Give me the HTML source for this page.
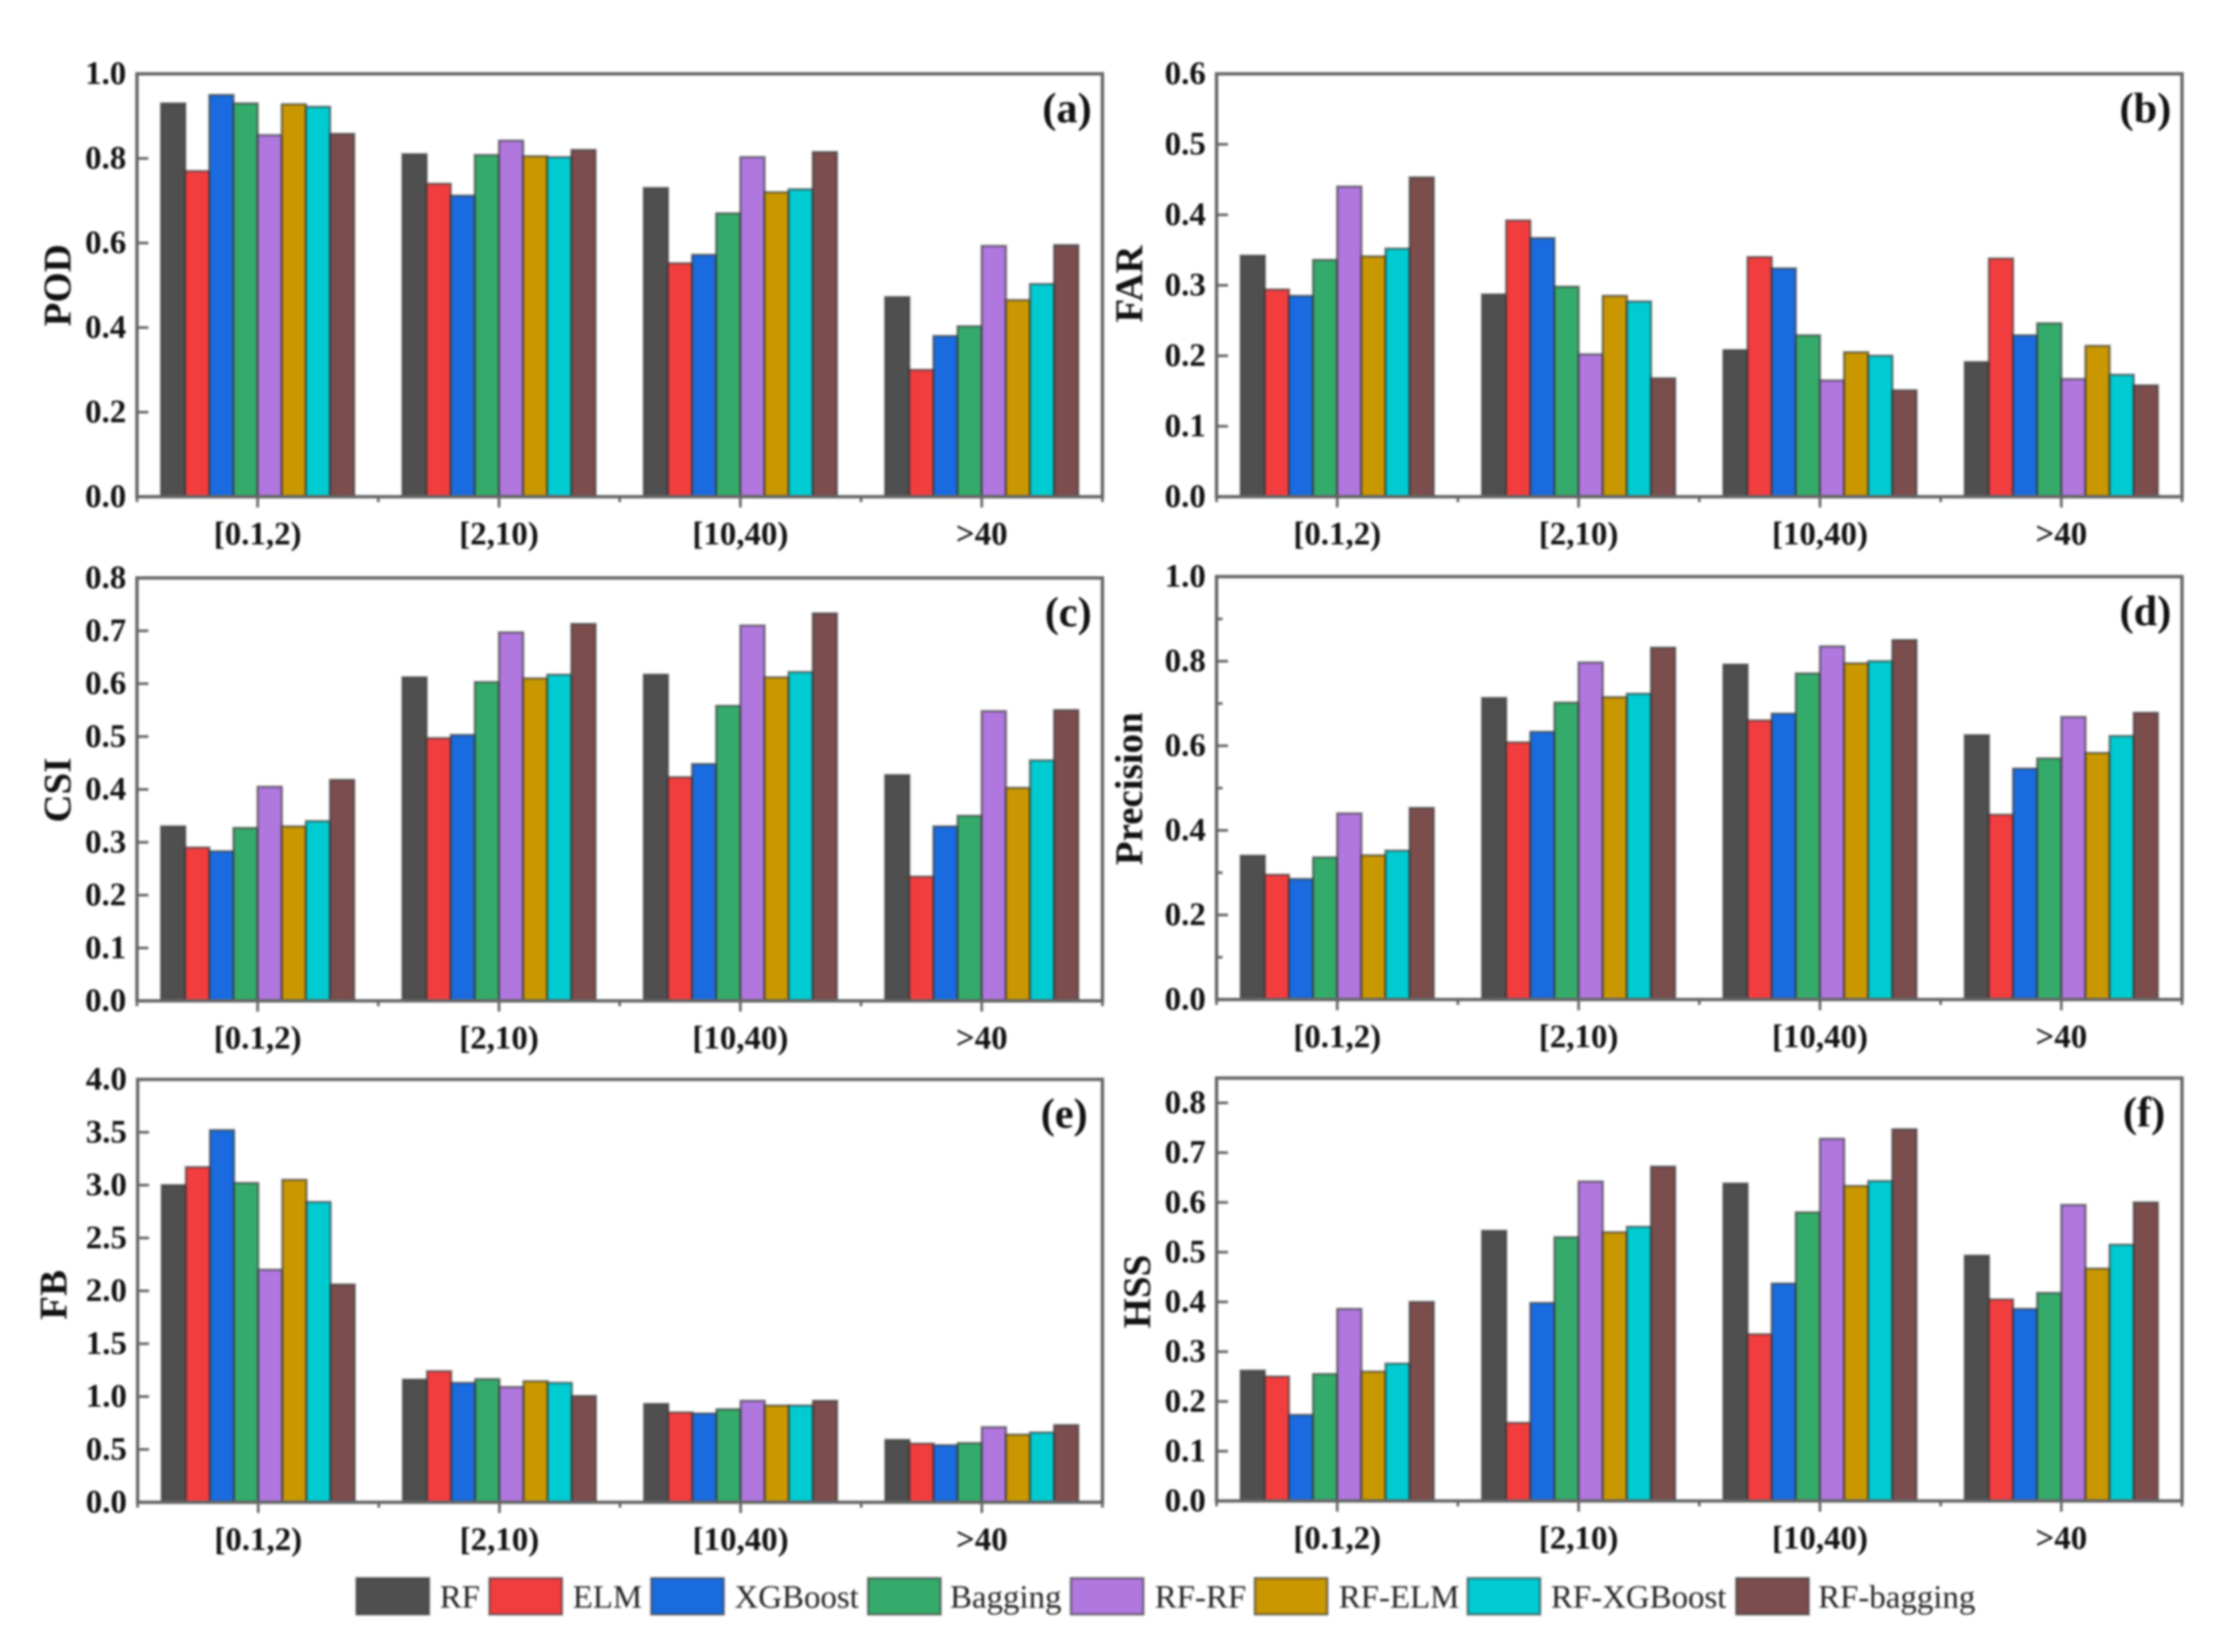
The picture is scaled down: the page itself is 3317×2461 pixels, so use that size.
<!DOCTYPE html>
<html lang="en">
<head>
<meta charset="utf-8">
<title>Model skill scores by rainfall intensity</title>
<style>
html,body{margin:0;padding:0;background:#fff;}
body{width:3317px;height:2461px;overflow:hidden;}
svg{display:block;filter:blur(1.6px);font-family:"Liberation Serif",serif;}
.s0{fill:#4f4f4f}.s1{fill:#f23d3f}.s2{fill:#1a6be0}.s3{fill:#35ab6b}
.s4{fill:#b077de}.s5{fill:#c99700}.s6{fill:#00cbd0}.s7{fill:#7c4d4d}
.bar{stroke:#333;stroke-opacity:.6;stroke-width:3.5px;}
.frame{fill:none;stroke:#666;stroke-width:5px;}
.tick{stroke:#666;stroke-width:4px;}
.tl{font-size:49px;font-weight:bold;fill:#111;}
.at{font-size:58px;font-weight:bold;fill:#111;}
.pl{font-size:63px;font-weight:bold;fill:#111;}
.lg{font-size:49px;fill:#222;}
</style>
</head>
<body>
<svg id="chart" width="3317" height="2461" viewBox="0 0 3317 2461" xmlns="http://www.w3.org/2000/svg">
  <rect width="3317" height="2461" fill="#fff"/>
  <g id="panels"></g>
  <g>
    <g><rect class="s0 bar" x="531" y="2351" width="108" height="54"/><text class="lg" x="655" y="2395">RF</text></g>
    <g><rect class="s1 bar" x="729" y="2351" width="108" height="54"/><text class="lg" x="853" y="2395">ELM</text></g>
    <g><rect class="s2 bar" x="970" y="2351" width="108" height="54"/><text class="lg" x="1094" y="2395">XGBoost</text></g>
    <g><rect class="s3 bar" x="1293" y="2351" width="108" height="54"/><text class="lg" x="1415" y="2395">Bagging</text></g>
    <g><rect class="s4 bar" x="1595" y="2351" width="108" height="54"/><text class="lg" x="1720" y="2395">RF-RF</text></g>
    <g><rect class="s5 bar" x="1869" y="2351" width="108" height="54"/><text class="lg" x="1994" y="2395">RF-ELM</text></g>
    <g><rect class="s6 bar" x="2186" y="2351" width="108" height="54"/><text class="lg" x="2310" y="2395">RF-XGBoost</text></g>
    <g><rect class="s7 bar" x="2586" y="2351" width="108" height="54"/><text class="lg" x="2708" y="2395">RF-bagging</text></g>
  </g>
</svg>
<script>
const categories = ['[0.1,2)', '[2,10)', '[10,40)', '>40'];
const seriesNames = ['RF', 'ELM', 'XGBoost', 'Bagging', 'RF-RF', 'RF-ELM', 'RF-XGBoost', 'RF-bagging'];

const podValues = [
  [0.93, 0.77, 0.95, 0.93, 0.855, 0.928, 0.922, 0.858],
  [0.81, 0.74, 0.712, 0.808, 0.842, 0.805, 0.803, 0.82],
  [0.73, 0.552, 0.572, 0.67, 0.803, 0.72, 0.727, 0.815],
  [0.472, 0.30, 0.38, 0.403, 0.593, 0.465, 0.503, 0.595]
];
const farValues = [
  [0.342, 0.294, 0.285, 0.336, 0.44, 0.341, 0.352, 0.453],
  [0.287, 0.392, 0.367, 0.298, 0.202, 0.285, 0.277, 0.168],
  [0.208, 0.34, 0.324, 0.229, 0.165, 0.205, 0.2, 0.151],
  [0.191, 0.338, 0.229, 0.246, 0.167, 0.214, 0.173, 0.158]
];
const csiValues = [
  [0.33, 0.29, 0.283, 0.327, 0.405, 0.33, 0.34, 0.418],
  [0.612, 0.497, 0.503, 0.603, 0.697, 0.61, 0.617, 0.713],
  [0.617, 0.423, 0.448, 0.558, 0.71, 0.612, 0.622, 0.733],
  [0.427, 0.235, 0.33, 0.35, 0.548, 0.403, 0.455, 0.55]
];
const precisionValues = [
  [0.34, 0.295, 0.285, 0.336, 0.44, 0.341, 0.352, 0.453],
  [0.713, 0.608, 0.633, 0.702, 0.797, 0.715, 0.723, 0.832],
  [0.792, 0.66, 0.676, 0.771, 0.835, 0.795, 0.8, 0.85],
  [0.625, 0.437, 0.546, 0.57, 0.668, 0.583, 0.623, 0.678]
];
const fbValues = [
  [3.0, 3.17, 3.52, 3.02, 2.2, 3.05, 2.84, 2.06],
  [1.16, 1.24, 1.13, 1.165, 1.09, 1.145, 1.13, 1.005],
  [0.93, 0.85, 0.84, 0.88, 0.96, 0.915, 0.915, 0.96],
  [0.59, 0.555, 0.54, 0.56, 0.71, 0.64, 0.66, 0.73]
];
const hssValues = [
  [0.262, 0.25, 0.173, 0.255, 0.386, 0.26, 0.276, 0.4],
  [0.543, 0.157, 0.398, 0.53, 0.642, 0.54, 0.551, 0.672],
  [0.638, 0.335, 0.437, 0.58, 0.728, 0.633, 0.643, 0.747],
  [0.493, 0.405, 0.386, 0.418, 0.595, 0.467, 0.515, 0.6]
];

const podTicks = ['0.0', '0.2', '0.4', '0.6', '0.8', '1.0'];
const farTicks = ['0.0', '0.1', '0.2', '0.3', '0.4', '0.5', '0.6'];
const csiTicks = ['0.0', '0.1', '0.2', '0.3', '0.4', '0.5', '0.6', '0.7', '0.8'];
const precisionTicks = ['0.0', '0.2', '0.4', '0.6', '0.8', '1.0'];
const precisionMinorTicks = [0.1, 0.3, 0.5, 0.7, 0.9];
const fbTicks = ['0.0', '0.5', '1.0', '1.5', '2.0', '2.5', '3.0', '3.5', '4.0'];
const hssTicks = ['0.0', '0.1', '0.2', '0.3', '0.4', '0.5', '0.6', '0.7', '0.8'];

const podMax = 1.0;
const farMax = 0.6;
const csiMax = 0.8;
const precisionMax = 1.0;
const fbMax = 4.0;
const hssMax = 0.85;

const SVG_NS = 'http://www.w3.org/2000/svg';
const panelsRoot = document.getElementById('panels');

function make(tag, parent, cls) {
  const el = document.createElementNS(SVG_NS, tag);
  if (cls) el.setAttribute('class', cls);
  parent.appendChild(el);
  return el;
}

function line(parent, x1, y1, x2, y2, name) {
  const el = make('line', parent, 'tick');
  el.setAttribute('x1', x1);
  el.setAttribute('y1', y1);
  el.setAttribute('x2', x2);
  el.setAttribute('y2', y2);
  
  
  return el;
}

function text(parent, cls, x, y, anchor, content, name) {
  const el = make('text', parent, cls);
  el.setAttribute('x', x);
  el.setAttribute('y', y);
  el.setAttribute('text-anchor', anchor);
  el.textContent = content;
  
  
  return el;
}

function drawPanel(id, title, letter, letterInset, left, right, top, bottom, titleX, titleY, yMax, values, ticks, minorTicks) {
  const g = make('g', panelsRoot);
  
  

  const yScale = v => bottom - (v / yMax) * (bottom - top);
  const groupW = (right - left) / categories.length;
  const xCenter = i => left + groupW * (i + 0.5);
  const barW = groupW * 0.8 / seriesNames.length;

  categories.forEach((cat, c) => {
    seriesNames.forEach((s, k) => {
      const v = values[c][k];
      const bar = make('rect', g, 'bar s' + k);
      bar.setAttribute('x', xCenter(c) - groupW * 0.4 + k * barW);
      bar.setAttribute('y', yScale(v));
      bar.setAttribute('width', barW);
      bar.setAttribute('height', bottom - yScale(v));
      
      
    });
  });

  const frame = make('rect', g, 'frame');
  frame.setAttribute('x', left);
  frame.setAttribute('y', top);
  frame.setAttribute('width', right - left);
  frame.setAttribute('height', bottom - top);
  
  

  ticks.forEach(t => {
    const y = yScale(parseFloat(t));
    if (parseFloat(t) > 0 && parseFloat(t) < yMax) {
      line(g, left, y, left + 17, y, 'y-tick');
    }
    text(g, 'tl', left - 16, y + 15, 'end', t, 'y-tick-label');
  });

  minorTicks.forEach(t => {
    const y = yScale(t);
    line(g, left, y, left + 9, y, 'y-minor-tick');
  });

  categories.forEach((cat, c) => {
    line(g, xCenter(c), bottom, xCenter(c), bottom + 16, 'x-tick');
    text(g, 'tl', xCenter(c), bottom + 71, 'middle', cat, 'x-tick-label');
  });
  for (let c = 0; c <= categories.length; c++) {
    const x = left + groupW * c;
    line(g, x, bottom, x, bottom + 8, 'x-minor-tick');
  }

  const yt = text(g, 'at', titleX, titleY, 'middle', title, 'y-axis-title');
  yt.setAttribute('transform', 'rotate(-90 ' + titleX + ' ' + titleY + ')');

  text(g, 'pl', right - letterInset, top + 72, 'end', letter, 'panel-label');
}

drawPanel('pod', 'POD', '(a)', 16, 204, 1642, 110, 740, 105, 425, podMax, podValues, podTicks, []);
drawPanel('far', 'FAR', '(b)', 16, 1812, 3250, 110, 740, 1701, 423, farMax, farValues, farTicks, []);
drawPanel('csi', 'CSI', '(c)', 16, 204, 1642, 861, 1491, 105, 1177, csiMax, csiValues, csiTicks, []);
drawPanel('precision', 'Precision', '(d)', 16, 1812, 3250, 859, 1489, 1701, 1175, precisionMax, precisionValues, precisionTicks, precisionMinorTicks);
drawPanel('fb', 'FB', '(e)', 22, 205, 1642, 1608, 2238, 99, 1929, fbMax, fbValues, fbTicks, []);
drawPanel('hss', 'HSS', '(f)', 25, 1812, 3250, 1606, 2236, 1713, 1924, hssMax, hssValues, hssTicks, []);
</script>
</body>
</html>
